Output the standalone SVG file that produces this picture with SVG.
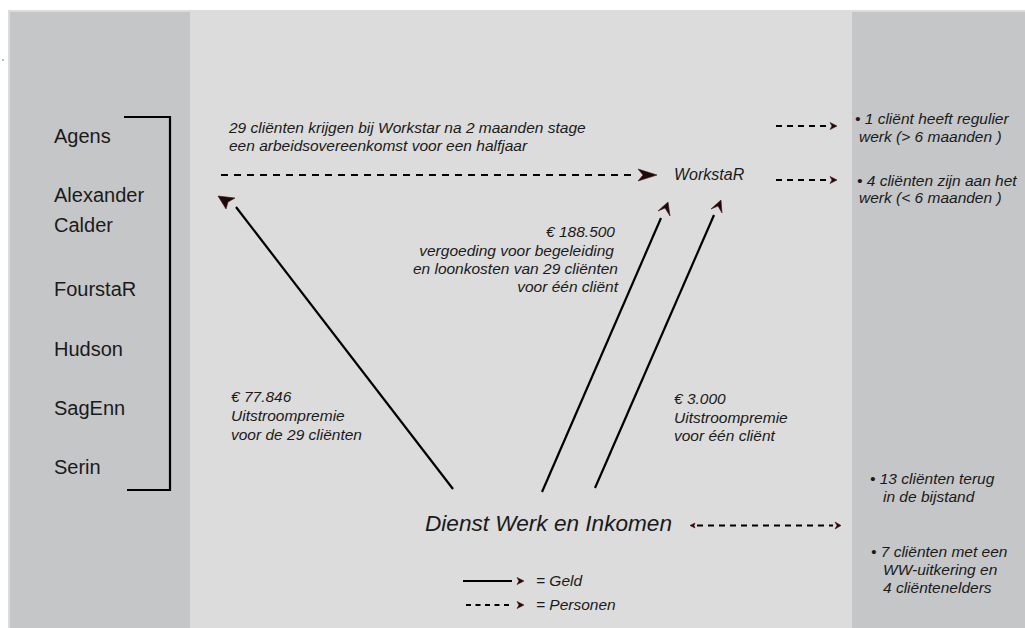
<svg xmlns="http://www.w3.org/2000/svg" width="1025" height="628" viewBox="0 0 1025 628">
<style>
.lbl{font-family:"Liberation Sans",Arial,sans-serif;font-size:20px;fill:#1a1a1a}
.it{font-family:"Liberation Sans",Arial,sans-serif;font-size:15.5px;font-style:italic;fill:#1a1a1a}
.big{font-family:"Liberation Sans",Arial,sans-serif;font-style:italic;fill:#1a1a1a}
.solid{stroke:#000;stroke-width:2.2;fill:none}
.dash{stroke:#000;stroke-width:2;fill:none;stroke-dasharray:7 6}
.dsm{stroke:#000;stroke-width:2;fill:none;stroke-dasharray:6 5}
.head{fill:#1a0a0a;stroke:#4a1010;stroke-width:0.6}
</style>
<rect x="0" y="0" width="1025" height="628" fill="#ffffff"/>
<rect x="2.5" y="59.5" width="1" height="1" fill="#000"/>
<rect x="8" y="10" width="1017" height="618" fill="#dcdcdc"/>
<rect x="10" y="12" width="180" height="616" fill="#c5c6c8"/>
<rect x="852" y="12" width="173" height="616" fill="#c5c6c8"/>

<g id="left-list">
<text class="lbl" x="54" y="143">Agens</text>
<text class="lbl" x="54" y="202">Alexander</text>
<text class="lbl" x="54" y="232">Calder</text>
<text class="lbl" x="54" y="296">FourstaR</text>
<text class="lbl" x="54" y="356">Hudson</text>
<text class="lbl" x="54" y="415">SagEnn</text>
<text class="lbl" x="54" y="474">Serin</text>
<path d="M124,117 H170 V490 H127" stroke="#000" stroke-width="2.2" fill="none"/>
</g>

<g id="workstar">
<text class="big" x="674" y="180" font-size="16">WorkstaR</text>
</g>

<g id="dwi">
<text class="big" x="425" y="531" font-size="22.6">Dienst Werk en Inkomen</text>
</g>

<g id="labels">
<text class="it" x="229" y="133">29 cliënten krijgen bij Workstar na 2 maanden stage</text>
<text class="it" x="229" y="151">een arbeidsovereenkomst voor een halfjaar</text>
<g text-anchor="end">
<text class="it" x="615" y="237">€ 188.500</text>
<text class="it" x="614" y="256">vergoeding voor begeleiding</text>
<text class="it" x="618" y="274">en loonkosten van 29 cliënten</text>
<text class="it" x="618" y="292">voor één cliënt</text>
</g>
<text class="it" x="231" y="402">€ 77.846</text>
<text class="it" x="231" y="421">Uitstroompremie</text>
<text class="it" x="231" y="440">voor de 29 cliënten</text>
<text class="it" x="674" y="404">€ 3.000</text>
<text class="it" x="674" y="423">Uitstroompremie</text>
<text class="it" x="674" y="441">voor één cliënt</text>
</g>

<g id="outcomes">
<text class="it" x="855" y="124">• 1 cliënt heeft regulier</text>
<text class="it" x="859" y="142">werk (&gt; 6 maanden )</text>
<text class="it" x="857" y="186">• 4 cliënten zijn aan het</text>
<text class="it" x="859" y="203">werk (&lt; 6 maanden )</text>
<text class="it" x="870" y="484">• 13 cliënten terug</text>
<text class="it" x="883" y="502">in de bijstand</text>
<text class="it" x="871" y="557">• 7 cliënten met een</text>
<text class="it" x="883" y="575">WW-uitkering en</text>
<text class="it" x="883" y="593">4 cliëntenelders</text>
</g>

<g id="connectors">
<line class="dash" x1="221" y1="175" x2="632" y2="175"/>
<path class="head" d="M657,175 L638,169 L643,175 L638,181 Z"/>

<line class="solid" x1="453" y1="489" x2="236" y2="207"/>
<path class="head" d="M218,196 L235,198 L228,202 L226,209 Z"/>

<line class="solid" x1="542" y1="492" x2="661" y2="218"/>
<path class="head" d="M668,202 L658,211 L665,208 L670,216 Z"/>

<line class="solid" x1="595" y1="488" x2="714" y2="215"/>
<path class="head" d="M721,200 L711,209 L718,206 L722,213 Z"/>

<line class="dsm" x1="776" y1="126" x2="828" y2="126"/>
<path class="head" d="M837,126 L830,122.5 L832,126 L830,129.5 Z"/>
<line class="dsm" x1="776" y1="180" x2="828" y2="180"/>
<path class="head" d="M837,180 L830,176.5 L832,180 L830,183.5 Z"/>

<line class="dsm" x1="697" y1="525.5" x2="833" y2="525.5"/>
<path class="head" d="M690,525.5 L695,523 L694,525.5 L695,528 Z"/>
<path class="head" d="M841,525.5 L835,522 L837,525.5 L835,529 Z"/>
</g>

<g id="legend">
<line class="solid" x1="463" y1="581" x2="512" y2="581"/>
<path class="head" d="M524,581 L517,577.5 L519,581 L517,584.5 Z"/>
<text class="it" x="536" y="586">= Geld</text>
<line x1="466" y1="605" x2="512" y2="605" stroke="#000" stroke-width="2" stroke-dasharray="5 4.5"/>
<path class="head" d="M524,605 L517,601.5 L519,605 L517,608.5 Z"/>
<text class="it" x="536" y="610">= Personen</text>
</g>
</svg>
